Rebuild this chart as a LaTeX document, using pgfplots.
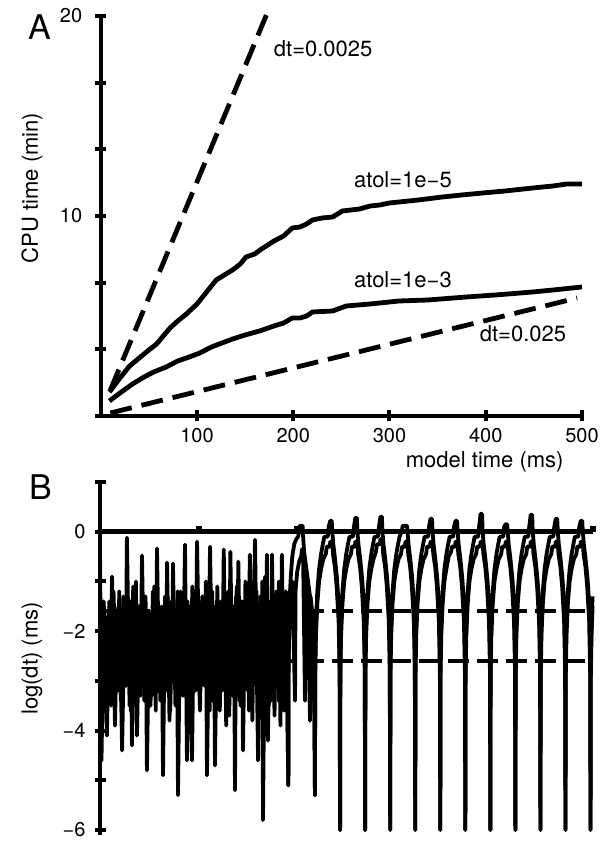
\documentclass[border=0pt]{standalone}
\usepackage{fontspec}
\setmainfont{TeX Gyre Heros}
\usepackage{pgfplots}
\pgfplotsset{compat=1.18}
\begin{document}
\begin{tikzpicture}[line join=round]
\useasboundingbox (0,0) rectangle (307.5pt,432.5pt);
% ---------------- Panel A ----------------
\begin{axis}[
  at={(50.375pt,224.5pt)}, anchor=south west,
  scale only axis, width=240.6pt, height=200pt,
  xmin=0, xmax=500, ymin=0, ymax=20,
  clip=false,
  axis lines=left,
  axis line style={line width=2.2pt,-},
  every outer x axis line/.append style={-},
  every outer y axis line/.append style={-},
  tick align=center, major tick length=5.5pt,
  tick style={line width=2pt,black},
  xtick={100,200,300,400,500}, xticklabels={100,200,300,400,500},
  ytick={0,3.3333,6.6667,10,13.3333,16.6667,20},
  yticklabels={,,,10,,,20},
  tick label style={font=\fontsize{10}{12}\selectfont},
  yticklabel style={xshift=-3pt},
  xlabel={model time (ms)},
  xlabel style={at={(axis description cs:0.798,0)},anchor=center,yshift=-23pt,font=\fontsize{11}{13}\selectfont},
  ylabel={CPU time (min)},
  ylabel style={at={(axis description cs:-0.143,0.57)},anchor=center,font=\fontsize{11}{13}\selectfont},
]
\addplot[black, line width=2.4pt, dash pattern=on 11pt off 5pt] coordinates {(10,1.3) (173,20.15)};
\addplot[black, line width=2.4pt, dash pattern=on 11pt off 5pt] coordinates {(10,0.15) (495,5.9)};
\addplot[black, line width=2.4pt] coordinates {
(9,1.2)(20,1.9)(30,2.5)(40,2.9)(50,3.3)(58,3.6)(65,4.0)(72,4.4)(80,4.75)(89,5.1)(100,5.6)(110,6.2)(120,6.8)(130,7.1)(137,7.3)(145,7.6)(151,7.95)(160,8.1)(167,8.35)(172,8.5)(180,8.75)(190,9.0)(199,9.4)(207,9.45)(214,9.6)(220,9.8)(230,9.9)(241,9.95)(251,10.25)(260,10.3)(269,10.35)(280,10.5)(290,10.55)(300,10.65)(310,10.7)(330,10.8)(355,10.95)(375,11.05)(397,11.15)(420,11.25)(449,11.4)(470,11.5)(484,11.6)(500,11.6)};
\addplot[black, line width=2.4pt] coordinates {
(9,0.75)(20,1.15)(33,1.6)(45,1.95)(55,2.2)(68,2.45)(80,2.75)(92,2.95)(103,3.15)(115,3.45)(126,3.65)(137,3.85)(150,4.05)(165,4.25)(180,4.5)(190,4.65)(199,4.9)(207,4.9)(214,5.0)(220,5.2)(241,5.25)(255,5.5)(280,5.6)(310,5.75)(340,5.8)(380,5.95)(410,6.05)(449,6.2)(470,6.3)(500,6.45)};
\node[anchor=west,font=\fontsize{11}{13}\selectfont] at (axis cs:172.6,18.35) {dt=0.0025};
\node[font=\fontsize{11}{13}\selectfont] at (axis cs:314,11.8) {atol=1e−5};
\node[font=\fontsize{11}{13}\selectfont] at (axis cs:314,6.8) {atol=1e−3};
\node[font=\fontsize{11}{13}\selectfont] at (axis cs:438.7,4.1) {dt=0.025};
\node[font=\fontsize{17}{20}\selectfont] at (axis description cs:-0.127,0.9725) {A};
\end{axis}
% ---------------- Panel B ----------------
\begin{axis}[
  at={(50pt,15pt)}, anchor=south west,
  scale only axis, width=246.5pt, height=176.5pt,
  xmin=0, xmax=500, ymin=-6.1, ymax=1.0,
  clip=false,
  axis x line=none, axis y line=left,
  axis line style={line width=2.2pt,-},
  every outer y axis line/.append style={-},
  tick align=center, major tick length=5.5pt,
  tick style={line width=2pt,black},
  ytick={-6,-5,-4,-3,-2,-1,0,1},
  yticklabels={−6,,−4,,−2,,0,},
  tick label style={font=\fontsize{10}{12}\selectfont},
  yticklabel style={xshift=-1pt},
  ylabel={log(dt) (ms)},
  ylabel style={at={(axis description cs:-0.138,0.5)},anchor=center,font=\fontsize{11}{13}\selectfont},
]
\addplot[black, line width=2.2pt, dash pattern=on 10.5pt off 4pt] coordinates {(0,-1.6) (500,-1.6)};
\addplot[black, line width=2.2pt, dash pattern=on 10.5pt off 4pt] coordinates {(0,-2.6) (500,-2.6)};
\addplot[black, line width=2.4pt] coordinates {(0,0) (500,0)};
\addplot[black, only marks, mark=square*, mark size=1.2pt] coordinates {(100,0.06) (200,0.06) (500,0.06)};
% upper trace (noisy part + periodic part)
\addplot[black, line width=1.9pt] coordinates {
(0,-0.3)(1.5,-4.6)(4,-1.5)(7,-4.1)(9.5,-1.4)(10.8,-3.0)(12.2,-0.9)(15.2,-3.9)(17.5,-1.6)(18.5,-3.2)(19.5,-1.2)(22.4,-4.4)(25,-1.5)(26,-3.1)(27.3,-0.12)(30,-3.5)(31,-1.4)(32.4,-4.3)(35,-1.2)(36,-3.0)(36.5,-1.0)(37.5,-4.1)(40,-1.5)(41,-3.0)(42.6,-0.48)(45,-3.4)(46.2,-1.3)(47.6,-4.8)(50,-1.6)(52.5,-3.3)(55,-1.1)(56.5,-3.6)(57.8,-0.34)(60,-3.1)(62.5,-1.5)(63.9,-4.9)(66,-1.3)(67,-3.2)(68,-0.62)(70.5,-3.8)(72.5,-1.4)(73.2,-3.0)(74,-0.64)(76.5,-3.5)(78,-1.6)(79.1,-5.3)(81.5,-1.2)(84,-3.3)(86.2,-0.26)(88.2,-4.6)(90.5,-1.5)(93.3,-4.6)(95.5,-1.2)(97,-3.2)(98.4,-0.2)(101.4,-3.6)(103.5,-1.4)(106,-3.1)(107.3,-1.0)(108.5,-4.9)(111.6,-0.3)(114,-3.4)(115.5,-1.5)(116.6,-4.7)(119,-1.1)(121.5,-3.6)(123,-1.4)(124,-3.2)(125.5,-0.36)(128,-3.9)(130,-1.2)(131,-3.7)(132.2,-0.4)(134.5,-3.3)(135.8,-1.5)(136.9,-5.2)(138,-1.3)(139,-3.0)(140.3,-0.6)(142.5,-3.5)(144,-1.4)(145,-4.4)(147.5,-1.0)(150,-3.2)(152,-0.46)(154.5,-3.8)(157.2,-0.16)(160.3,-4.6)(162.5,-1.3)(164,-3.2)(164.7,-1.0)(165.3,-5.8)(167.5,-0.9)(168.5,-3.3)(169.3,-0.46)(170.3,-4.2)(172.5,-1.4)(173.5,-3.4)(174.4,-0.46)(177,-3.7)(178.5,-1.3)(179.5,-3.1)(181.5,-1.0)(183,-3.9)(184.5,-0.46)(186.5,-3.6)(188.5,-1.2)(191,-5.1)
(191.3,-2.4)(192,-1.5)(193.5,-0.9)(195,-0.5)(197,-0.25)(199,-0.15)(201,-0.1)(202.5,0.12)(205.5,0.12)(206,-0.1)(207,-0.4)(209,-0.7)(211,-1.0)(213,-1.3)(215,-1.6)(217,-2.3)
(218,-5.3)(218.3,-2.6)(219,-1.8)(220.4,-1.2)(222.2,-0.75)(224.2,-0.45)(226,-0.25)(227.5,-0.1)(231,-0.1)(232,0.1)(233.5,0.22)(235,0.22)(235.6,0.0)(236.6,-0.25)(238.4,-0.55)(240.4,-0.95)(242.2,-1.5)(243,-2.4)
(243.5,-6)(243.8,-2.6)(244.5,-1.8)(245.9,-1.2)(247.7,-0.75)(249.7,-0.45)(251.5,-0.25)(253,-0.1)(256.5,-0.1)(257.5,0.1)(259,0.28)(260.5,0.28)(261.1,0.0)(262.1,-0.25)(263.9,-0.55)(265.9,-0.95)(267.7,-1.5)(268.5,-2.4)
(268.9,-6)(269.2,-2.6)(269.9,-1.8)(271.3,-1.2)(273.1,-0.75)(275.1,-0.45)(276.9,-0.25)(278.4,-0.1)(281.9,-0.1)(282.9,0.1)(284.4,0.3)(285.9,0.3)(286.5,0.0)(287.5,-0.25)(289.3,-0.55)(291.3,-0.95)(293.1,-1.5)(293.9,-2.4)
(294.3,-6)(294.6,-2.6)(295.3,-1.8)(296.7,-1.2)(298.5,-0.75)(300.5,-0.45)(302.3,-0.25)(303.8,-0.1)(306,0.0)(307,0.12)(311.3,0.12)(311.9,0.0)(312.9,-0.25)(314.7,-0.55)(316.7,-0.95)(318.5,-1.5)(319.3,-2.4)
(319.7,-6)(320,-2.6)(320.7,-1.8)(322.1,-1.2)(323.9,-0.75)(325.9,-0.45)(327.7,-0.25)(329.2,-0.1)(332.7,-0.1)(333.7,0.1)(335.2,0.26)(336.7,0.26)(337.3,0.0)(338.3,-0.25)(340.1,-0.55)(342.1,-0.95)(343.9,-1.5)(344.7,-2.4)
(345.1,-6)(345.4,-2.6)(346.1,-1.8)(347.5,-1.2)(349.3,-0.75)(351.3,-0.45)(353.1,-0.25)(354.6,-0.1)(358.1,-0.1)(359.1,0.1)(360.6,0.22)(362.1,0.22)(362.7,0.0)(363.7,-0.25)(365.5,-0.55)(367.5,-0.95)(369.3,-1.5)(370.1,-2.4)
(370.5,-6)(370.8,-2.6)(371.5,-1.8)(372.9,-1.2)(374.7,-0.75)(376.7,-0.45)(378.5,-0.25)(380,-0.1)(383.5,-0.1)(384.5,0.1)(386,0.36)(387.5,0.36)(388.1,0.0)(389.1,-0.25)(390.9,-0.55)(392.9,-0.95)(394.7,-1.5)(395.5,-2.4)
(395.9,-6)(396.2,-2.6)(396.9,-1.8)(398.3,-1.2)(400.1,-0.75)(402.1,-0.45)(403.9,-0.25)(405.4,-0.1)(408.9,-0.1)(409.9,0.1)(411.4,0.15)(412.9,0.15)(413.5,0.0)(414.5,-0.25)(416.3,-0.55)(418.3,-0.95)(420.1,-1.5)(420.9,-2.4)
(421.3,-6)(421.6,-2.6)(422.3,-1.8)(423.7,-1.2)(425.5,-0.75)(427.5,-0.45)(429.3,-0.25)(430.8,-0.1)(434.3,-0.1)(435.3,0.1)(436.8,0.34)(438.3,0.34)(438.9,0.0)(439.9,-0.25)(441.7,-0.55)(443.7,-0.95)(445.5,-1.5)(446.3,-2.4)
(446.7,-6)(447,-2.6)(447.7,-1.8)(449.1,-1.2)(450.9,-0.75)(452.9,-0.45)(454.7,-0.25)(456.2,-0.1)(459.7,-0.1)(460.7,0.1)(462.2,0.26)(463.7,0.26)(464.3,0.0)(465.3,-0.25)(467.1,-0.55)(469.1,-0.95)(470.9,-1.5)(471.7,-2.4)
(472.1,-6)(472.4,-2.6)(473.1,-1.8)(474.5,-1.2)(476.3,-0.75)(478.3,-0.45)(480.1,-0.25)(481.6,-0.1)(485.1,-0.1)(486.1,0.1)(487.6,0.22)(489.1,0.22)(489.7,0.0)(490.7,-0.25)(492.5,-0.55)(494.5,-0.95)(496.3,-1.5)(497.1,-2.4)
(497.5,-6)(497.8,-2.6)(498.5,-1.8)(499.6,-1.3)};
% lower trace (noisy part + periodic part)
\addplot[black, line width=1.9pt] coordinates {
(0,-1.0)(1.2,-3.3)(3.7,-1.4)(6.2,-3.0)(8.7,-1.6)(11.2,-3.5)(13.7,-1.2)(16.2,-2.9)(18.7,-1.5)(21.2,-3.4)(23.7,-1.3)(26.2,-3.1)(28.7,-1.7)(31.2,-3.6)(33.7,-1.1)(36.2,-3.0)(38.7,-1.5)(41.2,-3.3)(43.7,-1.3)(46.2,-2.9)(48.7,-1.6)(51.2,-3.5)(53.7,-1.2)(56.2,-3.1)(58.7,-1.4)(61.2,-3.4)(63.7,-1.6)(66.2,-2.9)(68.7,-1.3)(71.2,-3.6)(73.7,-1.5)(76.2,-3.0)(78.7,-1.2)(81.2,-3.3)(83.7,-1.6)(86.2,-3.1)(88.7,-1.4)(91.2,-3.5)(93.7,-1.1)(96.2,-2.9)(98.7,-1.5)(101.2,-3.4)(103.7,-1.3)(106.2,-3.0)(108.7,-1.6)(111.2,-3.6)(113.7,-1.2)(116.2,-3.1)(118.7,-1.4)(121.2,-3.3)(123.7,-1.6)(126.2,-2.9)(128.7,-1.3)(131.2,-3.5)(133.7,-1.5)(136.2,-3.0)(138.7,-1.1)(141.2,-3.4)(143.7,-1.6)(146.2,-3.1)(148.7,-1.3)(151.2,-3.6)(153.7,-1.4)(156.2,-2.9)(158.7,-1.2)(161.2,-3.3)(163.7,-1.5)(166.2,-3.0)(168.7,-1.3)(171.2,-3.5)(173.7,-1.6)(176.2,-3.1)(178.7,-1.2)(181.2,-3.4)(183.7,-1.4)(186.2,-3.0)(188.7,-1.5)
(191,-5.1)(191.3,-2.6)(192,-1.9)(193.5,-1.3)(195,-1.0)(197.8,-3.4)(198.3,-1.2)(200,-0.8)(202,-0.6)(204,-0.5)(205,-0.35)(206,-0.5)(207.9,-3.4)(208.4,-0.8)(210,-1.0)(213,-3.8)(213.5,-1.3)(215,-1.6)(217,-2.4)
(218,-5.3)(218.3,-2.9)(219,-2.1)(220.4,-1.45)(222.2,-1.0)(224.2,-0.75)(226.5,-0.55)(229,-0.45)(230,-0.3)(233,-0.3)(233.5,-0.2)(235.5,-0.2)(236.3,-0.45)(238.2,-0.7)(240,-1.1)(242,-1.8)(243,-2.8)
(243.5,-6)(243.8,-2.9)(244.5,-2.1)(245.9,-1.45)(247.7,-1.0)(249.7,-0.75)(252,-0.55)(254.5,-0.45)(255.5,-0.3)(258.5,-0.3)(259,-0.2)(261,-0.2)(261.8,-0.45)(263.7,-0.7)(265.5,-1.1)(267.5,-1.8)(268.5,-2.8)
(268.9,-6)(269.2,-2.9)(269.9,-2.1)(271.3,-1.45)(273.1,-1.0)(275.1,-0.75)(277.4,-0.55)(279.9,-0.4)(280.9,-0.25)(283.9,-0.25)(284.4,-0.15)(286.4,-0.15)(287.2,-0.45)(289.1,-0.7)(290.9,-1.1)(292.9,-1.8)(293.9,-2.8)
(294.3,-6)(294.6,-2.9)(295.3,-2.1)(296.7,-1.45)(298.5,-1.0)(300.5,-0.75)(302.8,-0.55)(305.3,-0.45)(306.3,-0.3)(309.3,-0.3)(309.8,-0.2)(311.8,-0.2)(312.6,-0.45)(314.5,-0.7)(316.3,-1.1)(318.3,-1.8)(319.3,-2.8)
(319.7,-6)(320,-2.9)(320.7,-2.1)(322.1,-1.45)(323.9,-1.0)(325.9,-0.75)(328.2,-0.55)(330.7,-0.45)(331.7,-0.3)(334.7,-0.3)(335.2,-0.2)(337.2,-0.2)(338,-0.45)(339.9,-0.7)(341.7,-1.1)(343.7,-1.8)(344.7,-2.8)
(345.1,-6)(345.4,-2.9)(346.1,-2.1)(347.5,-1.45)(349.3,-1.0)(351.3,-0.75)(353.6,-0.5)(356.1,-0.4)(357.1,-0.3)(360.1,-0.3)(360.6,-0.2)(362.6,-0.2)(363.4,-0.45)(365.3,-0.7)(367.1,-1.1)(369.1,-1.8)(370.1,-2.8)
(370.5,-6)(370.8,-2.9)(371.5,-2.1)(372.9,-1.45)(374.7,-1.0)(376.7,-0.75)(379,-0.55)(381.5,-0.45)(382.5,-0.3)(385.5,-0.3)(386,-0.2)(388,-0.2)(388.8,-0.45)(390.7,-0.7)(392.5,-1.1)(394.5,-1.8)(395.5,-2.8)
(395.9,-6)(396.2,-2.9)(396.9,-2.1)(398.3,-1.45)(400.1,-1.0)(402.1,-0.75)(404.4,-0.55)(406.9,-0.45)(407.9,-0.3)(410.9,-0.3)(411.4,-0.2)(413.4,-0.2)(414.2,-0.45)(416.1,-0.7)(417.9,-1.1)(419.9,-1.8)(420.9,-2.8)
(421.3,-6)(421.6,-2.9)(422.3,-2.1)(423.7,-1.45)(425.5,-1.0)(427.5,-0.75)(429.8,-0.55)(432.3,-0.45)(433.3,-0.3)(436.3,-0.3)(436.8,-0.2)(438.8,-0.2)(439.6,-0.45)(441.5,-0.7)(443.3,-1.1)(445.3,-1.8)(446.3,-2.8)
(446.7,-6)(447,-2.9)(447.7,-2.1)(449.1,-1.45)(450.9,-1.0)(452.9,-0.75)(455.2,-0.55)(457.7,-0.45)(458.7,-0.3)(461.7,-0.3)(462.2,-0.2)(464.2,-0.2)(465,-0.45)(466.9,-0.7)(468.7,-1.1)(470.7,-1.8)(471.7,-2.8)
(472.1,-6)(472.4,-2.9)(473.1,-2.1)(474.5,-1.45)(476.3,-1.0)(478.3,-0.75)(480.6,-0.55)(483.1,-0.45)(484.1,-0.3)(487.1,-0.3)(487.6,-0.2)(489.6,-0.2)(490.4,-0.45)(492.3,-0.7)(494.1,-1.1)(496.1,-1.8)(497.1,-2.8)
(497.5,-6)(497.8,-2.9)(498.5,-2.1)(499.6,-1.5)};
\node[font=\fontsize{17}{20}\selectfont] at (axis description cs:-0.12,0.986) {B};
\end{axis}
\end{tikzpicture}
\end{document}
